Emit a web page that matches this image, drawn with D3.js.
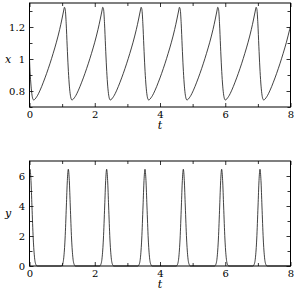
<!DOCTYPE html>
<html lang="en">
<head>
<meta charset="utf-8">
<title>x and y against t</title>
<script src="https://cdn.jsdelivr.net/npm/d3@7/dist/d3.min.js"></script>
<style>
  body { margin: 0; background: #fff; }
  text { font-family: "DejaVu Serif", serif; }
</style>
</head>
<body>
<script>
// Width and height
var w = 297;
var h = 293;

// x(t): [t, x]
var xSeries = [
  [0, 1.0], [0.01, 0.95], [0.04, 0.85], [0.07, 0.785], [0.1, 0.752],
  [0.125, 0.744], [0.225, 0.765], [0.325, 0.805], [0.425, 0.855], [0.525, 0.91], [0.625, 0.97], [0.725, 1.035], [0.825, 1.105], [0.925, 1.185], [0.995, 1.25], [1.045, 1.30], [1.07, 1.323], [1.095, 1.31], [1.125, 1.22], [1.155, 1.08], [1.185, 0.95], [1.215, 0.85], [1.245, 0.785], [1.275, 0.752],
  [1.3, 0.744], [1.4, 0.765], [1.5, 0.805], [1.6, 0.855], [1.7, 0.91], [1.8, 0.97], [1.9, 1.035], [2.0, 1.105], [2.1, 1.185], [2.17, 1.25], [2.22, 1.30], [2.245, 1.323], [2.27, 1.31], [2.3, 1.22], [2.33, 1.08], [2.36, 0.95], [2.39, 0.85], [2.42, 0.785], [2.45, 0.752],
  [2.475, 0.744], [2.575, 0.765], [2.675, 0.805], [2.775, 0.855], [2.875, 0.91], [2.975, 0.97], [3.075, 1.035], [3.175, 1.105], [3.275, 1.185], [3.345, 1.25], [3.395, 1.30], [3.42, 1.323], [3.445, 1.31], [3.475, 1.22], [3.505, 1.08], [3.535, 0.95], [3.565, 0.85], [3.595, 0.785], [3.625, 0.752],
  [3.65, 0.744], [3.75, 0.765], [3.85, 0.805], [3.95, 0.855], [4.05, 0.91], [4.15, 0.97], [4.25, 1.035], [4.35, 1.105], [4.45, 1.185], [4.52, 1.25], [4.57, 1.30], [4.595, 1.323], [4.62, 1.31], [4.65, 1.22], [4.68, 1.08], [4.71, 0.95], [4.74, 0.85], [4.77, 0.785], [4.8, 0.752],
  [4.825, 0.744], [4.925, 0.765], [5.025, 0.805], [5.125, 0.855], [5.225, 0.91], [5.325, 0.97], [5.425, 1.035], [5.525, 1.105], [5.625, 1.185], [5.695, 1.25], [5.745, 1.30], [5.77, 1.323], [5.795, 1.31], [5.825, 1.22], [5.855, 1.08], [5.885, 0.95], [5.915, 0.85], [5.945, 0.785], [5.975, 0.752],
  [6.0, 0.744], [6.1, 0.765], [6.2, 0.805], [6.3, 0.855], [6.4, 0.91], [6.5, 0.97], [6.6, 1.035], [6.7, 1.105], [6.8, 1.185], [6.87, 1.25], [6.92, 1.30], [6.945, 1.323], [6.97, 1.31], [7.0, 1.22], [7.03, 1.08], [7.06, 0.95], [7.09, 0.85], [7.12, 0.785], [7.15, 0.752],
  [7.175, 0.744], [7.275, 0.765], [7.375, 0.805], [7.475, 0.855], [7.575, 0.91], [7.675, 0.97], [7.775, 1.035], [7.875, 1.105], [7.975, 1.185], [8.0, 1.205]
];

// y(t): [t, y]
var ySeries = [
  [0, 6.3], [0.015, 6.45], [0.045, 5.7], [0.075, 4.0], [0.115, 1.8], [0.155, 0.55], [0.195, 0.1], [0.235, 0],
  [0.97, 0], [1.01, 0.1], [1.05, 0.55], [1.09, 1.8], [1.13, 4.0], [1.16, 5.7], [1.19, 6.45], [1.22, 5.7], [1.25, 4.0], [1.29, 1.8], [1.33, 0.55], [1.37, 0.1], [1.41, 0],
  [2.145, 0], [2.185, 0.1], [2.225, 0.55], [2.265, 1.8], [2.305, 4.0], [2.335, 5.7], [2.365, 6.45], [2.395, 5.7], [2.425, 4.0], [2.465, 1.8], [2.505, 0.55], [2.545, 0.1], [2.585, 0],
  [3.32, 0], [3.36, 0.1], [3.4, 0.55], [3.44, 1.8], [3.48, 4.0], [3.51, 5.7], [3.54, 6.45], [3.57, 5.7], [3.6, 4.0], [3.64, 1.8], [3.68, 0.55], [3.72, 0.1], [3.76, 0],
  [4.495, 0], [4.535, 0.1], [4.575, 0.55], [4.615, 1.8], [4.655, 4.0], [4.685, 5.7], [4.715, 6.45], [4.745, 5.7], [4.775, 4.0], [4.815, 1.8], [4.855, 0.55], [4.895, 0.1], [4.935, 0],
  [5.67, 0], [5.71, 0.1], [5.75, 0.55], [5.79, 1.8], [5.83, 4.0], [5.86, 5.7], [5.89, 6.45], [5.92, 5.7], [5.95, 4.0], [5.99, 1.8], [6.03, 0.55], [6.07, 0.1], [6.11, 0],
  [6.845, 0], [6.885, 0.1], [6.925, 0.55], [6.965, 1.8], [7.005, 4.0], [7.035, 5.7], [7.065, 6.45], [7.095, 5.7], [7.125, 4.0], [7.165, 1.8], [7.205, 0.55], [7.245, 0.1], [7.285, 0],
  [8.0, 0]
];

// ticks
var tMajor = [0, 2, 4, 6, 8];
var tMinor = [1, 3, 5, 7];
var xMajor = [0.8, 1, 1.2];
var xMinor = [0.7, 0.9, 1.1, 1.3];
var yMajor = [0, 2, 4, 6];
var yMinor = [1, 3, 5];

var svg = d3.select("body")
            .append("svg")
            .attr("width", w)
            .attr("height", h);

var left = 29.5, right = 290.5;

var tScale = d3.scaleLinear().domain([0, 8]).range([left, right]);

function panel(top, bottom, domain, series, major, minor, fmt, label, labelY) {
  var vScale = d3.scaleLinear().domain(domain).range([bottom, top]);
  var g = svg.append("g");

  // curve
  var line = d3.line()
               .x(function(d) { return tScale(d[0]); })
               .y(function(d) { return vScale(d[1]); })
               .curve(d3.curveMonotoneX);
  g.append("path")
   .datum(series)
   .attr("d", line)
   .attr("fill", "none")
   .attr("stroke", "#111")
   .attr("stroke-width", 0.8);

  // inward ticks on all four sides
  function axis(a, values, size, fmtFn, tx, ty) {
    var ax = a.tickValues(values).tickSize(-size).tickPadding(4).tickFormat(fmtFn);
    var s = g.append("g").attr("transform", "translate(" + tx + "," + ty + ")").call(ax);
    s.attr("font-family", null).attr("font-size", 10);
    s.select(".domain").remove();
    s.selectAll("line").attr("stroke", "#000").attr("stroke-width", 0.8);
    s.selectAll("text").attr("fill", "#000");
    return s;
  }
  var blank = function() { return ""; };
  axis(d3.axisBottom(tScale), tMajor, 4, d3.format("d"), 0, bottom);
  axis(d3.axisBottom(tScale), tMinor, 3, blank, 0, bottom);
  axis(d3.axisTop(tScale), tMajor, 4, blank, 0, top);
  axis(d3.axisTop(tScale), tMinor, 3, blank, 0, top);
  axis(d3.axisLeft(vScale), major, 4, fmt, left, 0).selectAll("text").attr("x", -4.5);
  axis(d3.axisLeft(vScale), minor, 3, blank, left, 0);
  axis(d3.axisRight(vScale), major, 4, blank, right, 0);
  axis(d3.axisRight(vScale), minor, 3, blank, right, 0);

  // frame
  g.append("rect")
   .attr("x", left).attr("y", top)
   .attr("width", right - left).attr("height", bottom - top)
   .attr("fill", "none")
   .attr("stroke", "#000")
   .attr("stroke-width", 1);

  // axis labels
  g.append("text")
   .attr("x", 8).attr("y", labelY)
   .attr("text-anchor", "middle")
   .attr("dy", "0.3em")
   .attr("font-size", 11)
   .attr("font-style", "italic")
   .text(label);
  g.append("text")
   .attr("x", tScale(4)).attr("y", bottom + 22)
   .attr("text-anchor", "middle")
   .attr("font-size", 11)
   .attr("font-style", "italic")
   .text("t");
}

panel(3, 107, [0.7, 1.35], xSeries, xMajor, xMinor, function(d) { return d === 1 ? "1" : d3.format(".1f")(d); }, "x", 60);
panel(161, 266, [0, 7], ySeries, yMajor, yMinor, d3.format("d"), "y", 214);
</script>
</body>
</html>
